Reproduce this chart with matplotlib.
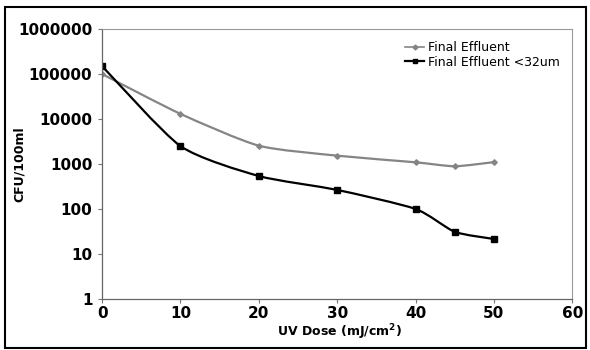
import numpy as np
import matplotlib.pyplot as plt
from matplotlib.path import Path
from matplotlib.patches import PathPatch, Rectangle

# UV dose (mJ/cm2) and CFU/100ml
dose = [0, 10, 20, 30, 40, 45, 50]
final_eff = [100000, 13000, 2550, 1530, 1090, 890, 1100]
final_eff_32 = [150000, 2500, 540, 265, 100, 31, 21.5]

xticks = [0, 10, 20, 30, 40, 50, 60]
yticks = [1, 10, 100, 1000, 10000, 100000, 1000000]


def smooth_path(x, y, k=0.11):
    # smoothed line like Excel: cubic Bezier through the points,
    # control points computed in x / log10(y) space
    px = np.array(x, float)
    py = np.log10(np.array(y, float))
    n = len(px)
    verts = [(px[0], py[0])]
    codes = [Path.MOVETO]
    for i in range(n - 1):
        i0 = max(i - 1, 0)
        i3 = min(i + 2, n - 1)
        c1 = (px[i] + (px[i + 1] - px[i0]) * k, py[i] + (py[i + 1] - py[i0]) * k)
        c2 = (px[i + 1] - (px[i3] - px[i]) * k, py[i + 1] - (py[i3] - py[i]) * k)
        verts += [c1, c2, (px[i + 1], py[i + 1])]
        codes += [Path.CURVE4] * 3
    verts = np.array(verts)
    verts[:, 1] = 10 ** verts[:, 1]
    return Path(verts, codes)


plt.rcParams['font.family'] = 'DejaVu Sans'
fig = plt.figure(figsize=(5.9, 3.5), dpi=100)
ax = fig.add_axes([0.173, 0.146, 0.797, 0.771])

gray = '#858585'
ax.add_patch(PathPatch(smooth_path(dose, final_eff), fc='none', ec=gray, lw=1.6))
ax.add_patch(PathPatch(smooth_path(dose, final_eff_32), fc='none', ec='black', lw=1.6))
ax.plot(dose, final_eff, ls='none', marker='D', ms=2.8, color=gray)
ax.plot(dose, final_eff_32, ls='none', marker='s', ms=4, color='black')

# legend handles
ax.plot([], [], color=gray, lw=1.2, marker='D', ms=2.5, label='Final Effluent')
ax.plot([], [], color='black', lw=1.6, marker='s', ms=3.5, label='Final Effluent <32um')
ax.legend(loc='upper left', bbox_to_anchor=(0.645, 0.955), frameon=False, fontsize=9,
          borderpad=0, borderaxespad=0, handlelength=1.5, handletextpad=0.3,
          labelspacing=0.12)

ax.set_yscale('log')
ax.set_xlim(0, 60)
ax.set_ylim(1, 1000000)
ax.set_xticks(xticks)
ax.set_yticks(yticks)
ax.set_yticklabels([str(v) for v in yticks])
ax.minorticks_off()
ax.tick_params(labelsize=11, length=3, width=0.8, color='#777777')
ax.tick_params(axis='x', pad=2)
ax.tick_params(axis='y', pad=4)
for lab in ax.get_xticklabels() + ax.get_yticklabels():
    lab.set_fontweight('bold')

for s in ['top', 'right']:
    ax.spines[s].set_color('#999999')
    ax.spines[s].set_linewidth(0.8)
for s in ['left', 'bottom']:
    ax.spines[s].set_color('#666666')
    ax.spines[s].set_linewidth(0.9)

ax.set_xlabel('UV Dose (mJ/cm$^\\mathbf{2}$)', fontsize=9, fontweight='bold')
ax.set_ylabel('CFU/100ml', fontsize=9, fontweight='bold')
ax.xaxis.set_label_coords(0.506, -0.088)
ax.yaxis.set_label_coords(-0.162, 0.5)

# outer chart border
fig.patches.append(Rectangle((0.009, 0.005), 0.984, 0.975, transform=fig.transFigure,
                             fill=False, ec='black', lw=1.5))

fig.savefig('out.png', dpi=100)
